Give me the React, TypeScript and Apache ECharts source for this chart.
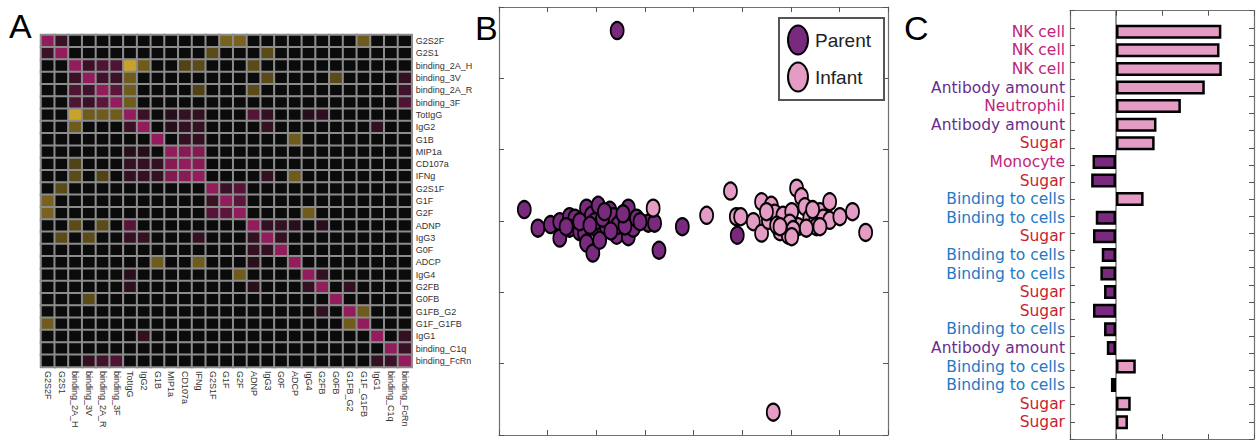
import React, { useEffect, useRef } from "react";
import * as echarts from "echarts";

const heatLabels = [
  "G2S2F", "G2S1", "binding_2A_H", "binding_3V", "binding_2A_R", "binding_3F",
  "TotIgG", "IgG2", "G1B", "MIP1a", "CD107a", "IFNg", "G2S1F", "G1F", "G2F",
  "ADNP", "IgG3", "G0F", "ADCP", "IgG4", "G2FB", "G0FB", "G1FB_G2", "G1F_G1FB",
  "IgG1", "binding_C1q", "binding_FcRn",
];

const corrMatrix = [
  [1, .35, 0, 0, 0, 0, 0, 0, 0, 0, 0, 0, 0, -.55, -.55, 0, 0, 0, 0, 0, 0, 0, 0, -.5, 0, 0, 0],
  [.35, 1, 0, 0, 0, 0, 0, 0, 0, 0, 0, 0, -.4, 0, 0, 0, -.4, 0, 0, 0, 0, 0, 0, 0, 0, 0, 0],
  [0, 0, 1, .35, .5, .5, -.95, -.5, 0, 0, -.35, -.4, 0, 0, 0, -.4, 0, 0, 0, 0, 0, 0, 0, 0, 0, 0, 0],
  [0, 0, .35, 1, .4, .35, -.5, 0, 0, 0, 0, 0, 0, 0, 0, 0, -.4, 0, 0, 0, 0, -.4, 0, 0, 0, 0, .3],
  [0, 0, .5, .4, 1, .6, -.5, 0, 0, 0, 0, -.35, 0, 0, 0, -.4, 0, 0, 0, 0, 0, 0, 0, 0, 0, 0, .4],
  [0, 0, .5, .35, .6, 1, -.5, 0, 0, 0, 0, 0, 0, 0, 0, 0, 0, 0, 0, 0, 0, 0, 0, 0, 0, 0, .5],
  [0, 0, -.95, -.5, -.5, -.5, 1, .35, 0, .2, .3, .3, 0, 0, 0, .55, .3, 0, 0, .2, .25, 0, 0, 0, 0, 0, 0],
  [0, 0, -.5, 0, 0, 0, .35, 1, 0, .2, .3, .3, 0, 0, 0, 0, .3, 0, 0, 0, 0, 0, 0, 0, .28, 0, 0],
  [0, 0, 0, 0, 0, 0, 0, 0, 1, 0, .3, .3, 0, 0, 0, 0, 0, 0, -.5, 0, 0, 0, 0, 0, 0, 0, 0],
  [0, 0, 0, 0, 0, 0, .2, .2, 0, 1, .9, .88, 0, 0, 0, 0, 0, 0, 0, 0, 0, 0, 0, 0, 0, 0, 0],
  [0, 0, -.35, 0, 0, 0, .3, .3, .3, .9, 1, .92, 0, 0, 0, 0, 0, 0, 0, 0, 0, 0, 0, 0, 0, 0, 0],
  [0, 0, -.4, 0, -.35, 0, .3, .3, .3, .88, .92, 1, 0, 0, 0, 0, .3, 0, -.5, 0, 0, 0, 0, 0, 0, 0, 0],
  [0, -.4, 0, 0, 0, 0, 0, 0, 0, 0, 0, 0, 1, .35, .55, 0, 0, 0, 0, 0, 0, 0, 0, 0, 0, 0, 0],
  [-.55, 0, 0, 0, 0, 0, 0, 0, 0, 0, 0, 0, .35, 1, .6, 0, 0, 0, 0, 0, 0, 0, 0, 0, 0, 0, 0],
  [-.55, 0, 0, 0, 0, 0, 0, 0, 0, 0, 0, 0, .55, .6, 1, 0, 0, 0, 0, -.5, 0, 0, 0, 0, 0, 0, 0],
  [0, 0, -.4, 0, -.4, 0, .55, 0, 0, 0, 0, 0, 0, 0, 0, 1, .3, .3, .22, 0, .22, 0, 0, 0, 0, 0, 0],
  [0, -.4, 0, -.4, 0, 0, .3, .3, 0, 0, 0, .3, 0, 0, 0, .3, 1, .3, 0, 0, 0, 0, 0, 0, 0, 0, 0],
  [0, 0, 0, 0, 0, 0, 0, 0, 0, 0, 0, 0, 0, 0, 0, .3, .3, 1, 0, 0, 0, 0, 0, 0, 0, 0, 0],
  [0, 0, 0, 0, 0, 0, 0, 0, -.5, 0, 0, -.5, 0, 0, 0, .22, 0, 0, 1, 0, 0, 0, 0, 0, 0, 0, 0],
  [0, 0, 0, 0, 0, 0, .2, 0, 0, 0, 0, 0, 0, 0, -.5, 0, 0, 0, 0, 1, .3, 0, 0, 0, 0, 0, 0],
  [0, 0, 0, 0, 0, 0, .25, 0, 0, 0, 0, 0, 0, 0, 0, .22, 0, 0, 0, .3, 1, 0, .28, 0, 0, 0, 0],
  [0, 0, 0, -.4, 0, 0, 0, 0, 0, 0, 0, 0, 0, 0, 0, 0, 0, 0, 0, 0, 0, 1, 0, 0, 0, 0, 0],
  [0, 0, 0, 0, 0, 0, 0, 0, 0, 0, 0, 0, 0, 0, 0, 0, 0, 0, 0, 0, .28, 0, 1, -.5, 0, 0, 0],
  [-.5, 0, 0, 0, 0, 0, 0, 0, 0, 0, 0, 0, 0, 0, 0, 0, 0, 0, 0, 0, 0, 0, -.5, 1, 0, 0, 0],
  [0, 0, 0, 0, 0, 0, 0, .28, 0, 0, 0, 0, 0, 0, 0, 0, 0, 0, 0, 0, 0, 0, 0, 0, 1, 0, .3],
  [0, 0, 0, 0, 0, 0, 0, 0, 0, 0, 0, 0, 0, 0, 0, 0, 0, 0, 0, 0, 0, 0, 0, 0, 0, 1, .35],
  [0, 0, 0, .3, .4, .5, 0, 0, 0, 0, 0, 0, 0, 0, 0, 0, 0, 0, 0, 0, 0, 0, 0, 0, .3, .35, 1],
];

const parentX = [-3.48, -3.20, -2.94, -2.75, -2.75, -2.55, -2.44, -2.55, -2.34, -2.24, -2.20, -2.07, -2.20, -2.10, -1.96, -1.96, -1.79, -1.72, -1.65, -1.58, -1.48, -1.34, -1.34, -1.24, -1.17, -0.93, -0.80, -0.71, -0.23, -1.57, 0.90, -2.34, -2.03, -1.87, -2.13, -1.56, -1.41, -1.93, -1.10, -1.83, -2.62, -1.70, -1.45];
const parentY = [0.16, -0.10, -0.05, -0.01, -0.24, 0.06, 0.04, -0.10, -0.15, -0.17, -0.31, -0.45, 0.18, 0.08, 0.22, -0.13, -0.08, 0.15, 0.06, -0.20, 0.01, 0.18, -0.22, -0.10, 0.04, -0.03, -0.03, -0.41, -0.08, 2.67, -0.20, -0.01, -0.01, 0.04, -0.06, -0.06, -0.07, -0.27, -0.01, 0.13, -0.08, -0.14, 0.10];

const infantX = [0.27, 0.76, 0.88, 0.97, 1.23, 1.40, 1.40, 1.54, 1.60, 1.67, 1.78, 1.84, 1.95, 2.02, 2.12, 2.22, 2.15, 2.29, 2.39, 2.50, 2.60, 2.67, 2.80, 2.80, 3.01, 3.27, 3.54, 2.53, 1.71, 1.98, 2.32, 1.50, -0.83, 1.64, 2.45, 2.05, 2.02, 2.60, 1.78];
const infantY = [0.08, 0.42, 0.06, 0.06, -0.01, 0.27, -0.17, 0.01, 0.22, 0.11, -0.15, 0.08, -0.20, 0.13, 0.46, 0.34, -0.08, 0.20, 0.04, -0.03, 0.13, 0.04, 0.27, 0.01, 0.06, 0.13, -0.16, -0.08, -0.06, -0.03, -0.10, 0.13, 0.18, -2.68, 0.16, -0.12, -0.22, -0.08, -0.08];

const barLabels = [
  "NK cell", "NK cell", "NK cell", "Antibody amount", "Neutrophil", "Antibody amount",
  "Sugar", "Monocyte", "Sugar", "Binding to cells", "Binding to cells", "Sugar",
  "Binding to cells", "Binding to cells", "Sugar", "Sugar", "Binding to cells",
  "Antibody amount", "Binding to cells", "Binding to cells", "Sugar", "Sugar",
];
const barValues = [2.29, 2.25, 2.30, 1.93, 1.41, 0.88, 0.84, -0.51, -0.54, 0.60, -0.44, -0.50, -0.31, -0.34, -0.26, -0.50, -0.26, -0.20, 0.43, -0.11, 0.32, 0.26];

const PARENT = "#7a2a7e";
const INFANT = "#e49bc4";
const labelColors: Record<string, string> = {
  "NK cell": "#c0247d",
  "Neutrophil": "#c0247d",
  "Monocyte": "#c0247d",
  "Antibody amount": "#6a2c8e",
  "Sugar": "#c81f33",
  "Binding to cells": "#1f79c4",
};

const FONT = "'Liberation Sans', Arial, sans-serif";
const LABEL_FONT = "'DejaVu Sans', 'Liberation Sans', sans-serif";
const FRAME = "#707070";

export default function App() {
  const ref = useRef<HTMLDivElement>(null);
  useEffect(() => {
    if (!ref.current) return;
    const chart = echarts.init(ref.current, undefined, { renderer: "svg" });

    const heatData: number[][] = [];
    corrMatrix.forEach((row, r) => row.forEach((v, c) => heatData.push([c, r, v])));
    const parentData = parentX.map((x, i) => [x, parentY[i]]);
    const infantData = infantX.map((x, i) => [x, infantY[i]]);
    const barData = barValues.map((v) => ({
      value: v,
      itemStyle: { color: v >= 0 ? INFANT : PARENT },
    }));
    const barCats = barLabels.map((l) => ({ value: l, textStyle: { color: labelColors[l] } }));

    const frameAxis = (grid: number, pos: string, min: number, max: number, extra: any = {}) => ({
      gridIndex: grid,
      type: "value",
      position: pos,
      min,
      max,
      interval: 1,
      axisLine: { show: true, onZero: false, lineStyle: { color: FRAME, width: 1.2 } },
      axisTick: { show: true, inside: true, length: 5, lineStyle: { color: "#555", width: 1 } },
      axisLabel: { show: false },
      splitLine: { show: false },
      ...extra,
    });

    const option: any = {
      animation: false,
      backgroundColor: "#ffffff",
      textStyle: { fontFamily: FONT },
      grid: [
        { left: 41, top: 35, width: 370.7, height: 332, show: true, borderColor: "#8c8c8c", borderWidth: 1, backgroundColor: "#8c8c8c" },
        { left: 499, top: 7, width: 389, height: 428 },
        { left: 1070, top: 22.4, width: 184, height: 409.2 },
        { left: 1070, top: 10.7, width: 184, height: 428.3 },
      ],
      xAxis: [
        {
          gridIndex: 0, type: "category", data: heatLabels, position: "bottom",
          axisLine: { show: false }, axisTick: { show: false }, splitLine: { show: false },
          axisLabel: { rotate: -90, fontSize: 9, color: "#333", margin: 4, interval: 0, fontFamily: FONT },
        },
        frameAxis(1, "bottom", -4, 4),
        frameAxis(1, "top", -4, 4),
        { gridIndex: 2, type: "value", min: -1, max: 3, show: false },
        frameAxis(3, "bottom", -1, 3),
        frameAxis(3, "top", -1, 3),
      ],
      yAxis: [
        {
          gridIndex: 0, type: "category", data: heatLabels, inverse: true, position: "right",
          axisLine: { show: false }, axisTick: { show: false }, splitLine: { show: false },
          axisLabel: { fontSize: 9, color: "#333", margin: 4, interval: 0, fontFamily: FONT },
        },
        frameAxis(1, "left", -3, 3),
        frameAxis(1, "right", -3, 3),
        {
          gridIndex: 2, type: "category", data: barCats, inverse: true,
          axisLine: { show: false }, axisTick: { show: false }, splitLine: { show: false },
          axisLabel: { fontSize: 15.5, lineHeight: 18, margin: 5, interval: 0, fontFamily: LABEL_FONT },
        },
        frameAxis(3, "left", 0, 25, { inverse: true }),
        frameAxis(3, "right", 0, 25, { inverse: true }),
      ],
      visualMap: {
        show: false, type: "continuous", min: -1, max: 1, seriesIndex: 0, dimension: 2,
        inRange: { color: ["#d2aa2b", "#0b0b0b", "#931c5c"] },
      },
      series: [
        {
          type: "heatmap", xAxisIndex: 0, yAxisIndex: 0, data: heatData,
          itemStyle: { borderColor: "#8c8c8c", borderWidth: 2 },
          emphasis: { disabled: true },
        },
        {
          type: "scatter", xAxisIndex: 1, yAxisIndex: 1, data: parentData,
          symbol: "circle", symbolSize: [13, 17],
          itemStyle: { color: PARENT, borderColor: "#000", borderWidth: 2, opacity: 1 },
        },
        {
          type: "scatter", xAxisIndex: 1, yAxisIndex: 1, data: infantData,
          symbol: "circle", symbolSize: [13, 17],
          itemStyle: { color: INFANT, borderColor: "#000", borderWidth: 2, opacity: 1 },
        },
        {
          type: "line", xAxisIndex: 4, yAxisIndex: 4, data: [[0, 0], [0, 25]],
          symbol: "none", lineStyle: { color: "#333", width: 1 }, z: 1,
        },
        {
          type: "bar", xAxisIndex: 3, yAxisIndex: 3, data: barData, barWidth: 14,
          itemStyle: { borderColor: "#000", borderWidth: 2.5 }, z: 3,
        },
      ],
      graphic: [
        { type: "text", left: 9, top: 9, style: { text: "A", font: `34px ${FONT}`, fill: "#000" } },
        { type: "text", left: 475, top: 11, style: { text: "B", font: `34px ${FONT}`, fill: "#000" } },
        { type: "text", left: 904, top: 11, style: { text: "C", font: `34px ${FONT}`, fill: "#000" } },
        {
          type: "rect", shape: { x: 779, y: 18, width: 105, height: 82 },
          style: { fill: "#fff", stroke: "#555", lineWidth: 2 }, z: 10,
        },
        {
          type: "ellipse", shape: { cx: 798, cy: 40, rx: 10, ry: 14.5 },
          style: { fill: PARENT, stroke: "#000", lineWidth: 2 }, z: 11,
        },
        {
          type: "ellipse", shape: { cx: 798, cy: 77, rx: 10, ry: 14.5 },
          style: { fill: INFANT, stroke: "#000", lineWidth: 2 }, z: 11,
        },
        {
          type: "text", x: 815, y: 40, z: 11,
          style: { text: "Parent", font: `19px ${FONT}`, fill: "#222", verticalAlign: "middle" },
        },
        {
          type: "text", x: 815, y: 77, z: 11,
          style: { text: "Infant", font: `19px ${FONT}`, fill: "#222", verticalAlign: "middle" },
        },
      ],
    };
    chart.setOption(option);
    return () => chart.dispose();
  }, []);
  return (
    <div
      ref={ref}
      style={{ position: "fixed", left: 0, top: 0, width: 1257, height: 440, background: "#fff" }}
    />
  );
}
